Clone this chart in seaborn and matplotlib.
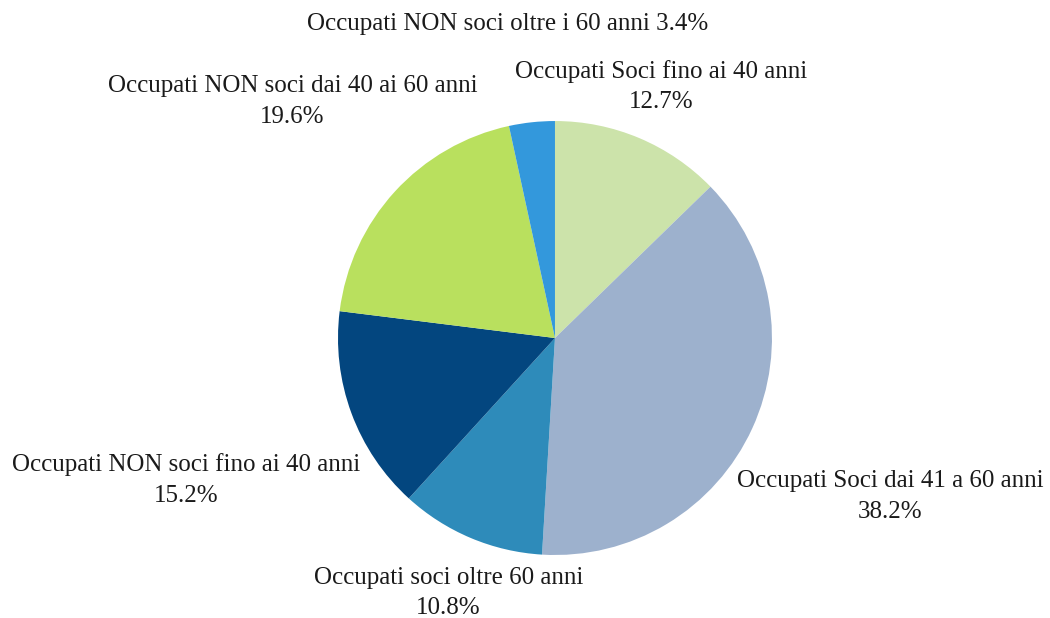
import matplotlib
matplotlib.use("Agg")
import matplotlib.pyplot as plt
import seaborn as sns

sns.set_theme(style="white")
plt.rcParams['font.family'] = ['Liberation Serif', 'DejaVu Serif']

# dati
categorie = ["Occupati Soci fino ai 40 anni",
             "Occupati Soci dai 41 a 60 anni",
             "Occupati soci oltre 60 anni",
             "Occupati NON soci fino ai 40 anni",
             "Occupati NON soci dai 40 ai 60 anni",
             "Occupati NON soci oltre i 60 anni"]
valori = [12.7, 38.2, 10.8, 15.2, 19.6, 3.4]
colori = ["#cce3aa", "#9db1cd", "#2e8bba", "#03467f", "#b9e05e", "#3398dc"]

# posizioni delle etichette (in unità del raggio)
pos_etichette = [(0.49, 1.16), (1.545, -0.73), (-0.49, -1.175),
                 (-1.70, -0.655), (-1.21, 1.09), (-0.22, 1.447)]

fig = plt.figure(figsize=(10.5, 6.18), dpi=100)
ax = fig.add_axes([0.3219, 0.1019, 0.4133, 0.7023])

ax.pie(valori, colors=colori, startangle=90, counterclock=False,
       radius=1, wedgeprops={'linewidth': 0})

for i, (nome, v) in enumerate(zip(categorie, valori)):
    if i == 5:
        testo = f"{nome} {v}%"
    else:
        testo = f"{nome}\n{v}%"
    x, y = pos_etichette[i]
    ax.text(x, y, testo, ha='center', va='center', fontsize=18,
            color='#1a1a1a', linespacing=1.5)

ax.set_xlim(-1, 1)
ax.set_ylim(-1, 1)
ax.set_aspect('equal')
ax.axis('off')

fig.savefig("out.png", dpi=100)
